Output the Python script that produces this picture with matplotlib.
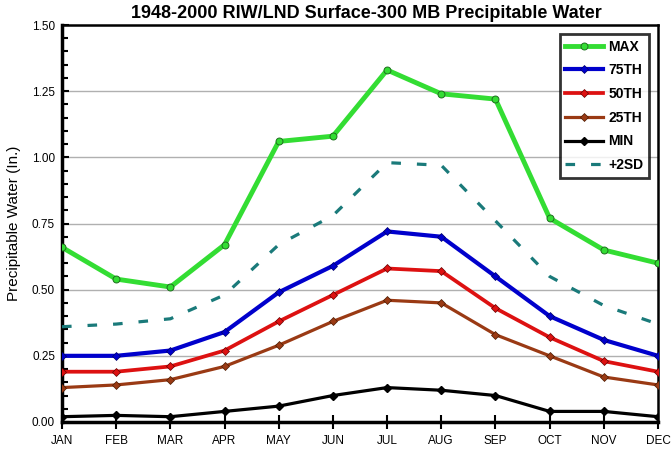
import matplotlib
matplotlib.use("Agg")
import matplotlib.pyplot as plt
from matplotlib.ticker import MultipleLocator

months = ["JAN", "FEB", "MAR", "APR", "MAY", "JUN", "JUL", "AUG", "SEP", "OCT", "NOV", "DEC"]
max_v = [0.66, 0.54, 0.51, 0.67, 1.06, 1.08, 1.33, 1.24, 1.22, 0.77, 0.65, 0.60]
p75 = [0.25, 0.25, 0.27, 0.34, 0.49, 0.59, 0.72, 0.70, 0.55, 0.40, 0.31, 0.25]
p50 = [0.19, 0.19, 0.21, 0.27, 0.38, 0.48, 0.58, 0.57, 0.43, 0.32, 0.23, 0.19]
p25 = [0.13, 0.14, 0.16, 0.21, 0.29, 0.38, 0.46, 0.45, 0.33, 0.25, 0.17, 0.14]
min_v = [0.02, 0.025, 0.02, 0.04, 0.06, 0.10, 0.13, 0.12, 0.10, 0.04, 0.04, 0.02]
sd2 = [0.36, 0.37, 0.39, 0.48, 0.67, 0.78, 0.98, 0.97, 0.76, 0.55, 0.44, 0.37]
ytick_labels = ["0.00", "0.25", "0.50", "0.75", "1.00", "1.25", "1.50"]

plt.rcParams['font.family'] = ['Liberation Sans', 'DejaVu Sans']

fig = plt.figure(figsize=(6.72, 4.54), dpi=100)
ax = fig.add_axes([62/672, 1-422/454, (658-62)/672, (422-25)/454])

x = list(range(len(months)))
ax.plot(x, max_v, color='#33dd33', lw=3.5, marker='o', ms=5, mfc='#33dd33', mec='#1f6f1f', mew=0.7, label='MAX', zorder=5)
ax.plot(x, p75, color='#0000cc', lw=3.0, marker='D', ms=4, mfc='#0000cc', mec='#000066', mew=0.5, label='75TH', zorder=5)
ax.plot(x, p50, color='#dd1111', lw=2.7, marker='D', ms=4, mfc='#dd1111', mec='#660000', mew=0.5, label='50TH', zorder=5)
ax.plot(x, p25, color='#9a3a14', lw=2.3, marker='D', ms=4, mfc='#9a3a14', mec='#4a1a00', mew=0.5, label='25TH', zorder=5)
ax.plot(x, min_v, color='black', lw=2.3, marker='D', ms=4, mfc='black', mec='black', label='MIN', zorder=5)
ax.plot(x, sd2, color='#1a7a7a', lw=2.3, ls=(0, (3, 5)), label='+2SD', zorder=4)

ax.set_xlim(0, 11)
ax.set_ylim(0, 1.5)
ax.set_xticks(x)
ax.set_xticklabels(months, fontsize=8.5)
ax.set_yticks([0, 0.25, 0.5, 0.75, 1.0, 1.25, 1.5])
ax.set_yticklabels(ytick_labels, fontsize=8.5)
ax.yaxis.set_minor_locator(MultipleLocator(0.05))
ax.tick_params(axis='y', which='major', direction='in', length=5, width=1.5, pad=5)
ax.tick_params(axis='y', which='minor', direction='in', length=4, width=1.5)
ax.tick_params(axis='x', which='major', direction='inout', length=10, width=1.5, pad=4)
ax.grid(axis='y', color='#b0b0b0', lw=1.0, zorder=0)
ax.set_axisbelow(True)
for s in ax.spines.values():
    s.set_linewidth(1.8)
ax.spines['bottom'].set_linewidth(2.5)
ax.spines['left'].set_linewidth(2.5)

ax.set_ylabel('Precipitable Water (In.)', fontsize=11, labelpad=8)
ax.set_title('1948-2000 RIW/LND Surface-300 MB Precipitable Water', fontsize=13, fontweight='bold', pad=5,
             x=0.51)

leg = ax.legend(loc='upper right', bbox_to_anchor=(1 - 9/596, 1 - 9/397), borderaxespad=0,
                prop={'weight': 'bold', 'size': 10},
                frameon=True, fancybox=False, edgecolor='black', handlelength=2.7,
                borderpad=0.4, labelspacing=0.7, handletextpad=0.4)
leg.get_frame().set_linewidth(2)

fig.savefig('out.png', dpi=100)
